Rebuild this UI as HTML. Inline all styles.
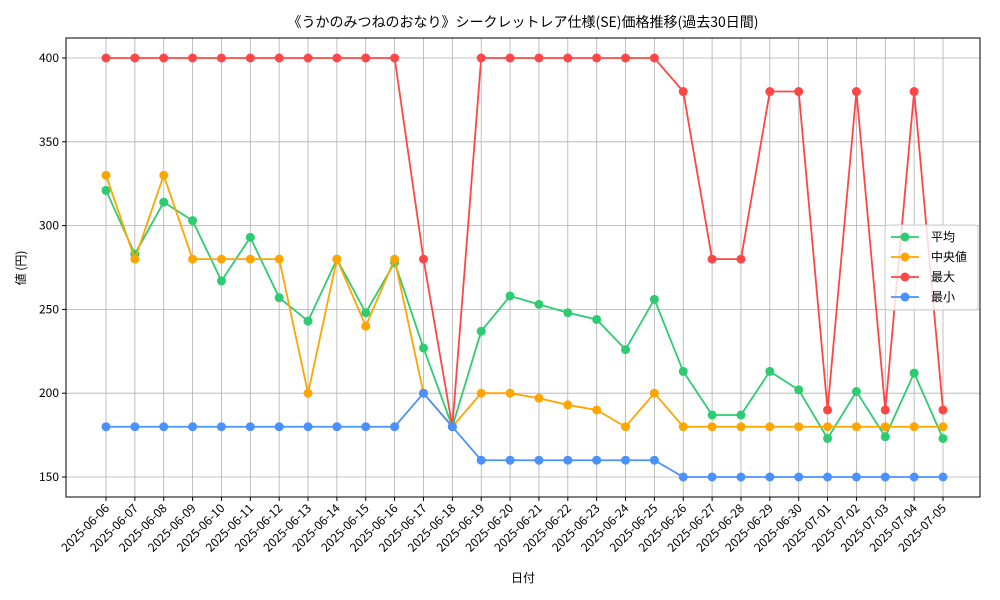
<!DOCTYPE html>
<html><head><meta charset="utf-8"><style>
body{margin:0;background:#fff}
svg{display:block;font-family:"Noto Sans CJK JP","Liberation Sans",sans-serif}
</style></head><body>
<svg id="chart" width="1000" height="600"></svg>
<script>
const dates=["2025-06-06","2025-06-07","2025-06-08","2025-06-09","2025-06-10","2025-06-11","2025-06-12","2025-06-13","2025-06-14","2025-06-15","2025-06-16","2025-06-17","2025-06-18","2025-06-19","2025-06-20","2025-06-21","2025-06-22","2025-06-23","2025-06-24","2025-06-25","2025-06-26","2025-06-27","2025-06-28","2025-06-29","2025-06-30","2025-07-01","2025-07-02","2025-07-03","2025-07-04","2025-07-05"];
const avgVals=[321,283,314,303,267,293,257,243,280,248,278,227,180,237,258,253,248,244,226,256,213,187,187,213,202,173,201,174,212,173];
const medVals=[330,280,330,280,280,280,280,200,280,240,280,200,180,200,200,197,193,190,180,200,180,180,180,180,180,180,180,180,180,180];
const maxVals=[400,400,400,400,400,400,400,400,400,400,400,280,180,400,400,400,400,400,400,400,380,280,280,380,380,190,380,190,380,190];
const minVals=[180,180,180,180,180,180,180,180,180,180,180,200,180,160,160,160,160,160,160,160,150,150,150,150,150,150,150,150,150,150];
const yTicks=[150,200,250,300,350,400];
const seriesNames=["平均","中央値","最大","最小"];
const seriesColors=["#2ecc71","#ffa500","#ff4646","#4a90ff"];
const NS="http://www.w3.org/2000/svg";
const svg=document.getElementById('chart');
const L=66,R=980,T=38,B=497;
const x=i=>106+i*(943-106)/(dates.length-1);
const y=v=>477-(v-150)*(477-58)/250;
function el(tag,attrs,parent){const e=document.createElementNS(NS,tag);for(const k in attrs)e.setAttribute(k,attrs[k]);(parent||svg).appendChild(e);return e;}
const grid=el('g',{});


dates.forEach((d,i)=>{const g=el('line',{x1:x(i),x2:x(i),y1:T,y2:B,stroke:'#b0b0b0','stroke-width':0.8},grid);

});
yTicks.forEach(v=>{const g=el('line',{x1:L,x2:R,y1:y(v),y2:y(v),stroke:'#b0b0b0','stroke-width':0.8},grid);

});
const frame=el('rect',{x:L,y:T,width:R-L,height:B-T,fill:'none',stroke:'#000','stroke-width':1});


yTicks.forEach(v=>{el('line',{x1:L-4,x2:L,y1:y(v),y2:y(v),stroke:'#000'});
const t=el('text',{x:L-7,y:y(v)+4,'text-anchor':'end','font-size':12});t.textContent=v;

});
dates.forEach((d,i)=>{el('line',{x1:x(i),x2:x(i),y1:B,y2:B+4,stroke:'#000'});
const t=el('text',{x:x(i)+4,y:B+12,'text-anchor':'end','font-size':12,transform:`rotate(-45 ${x(i)+4} ${B+12})`});t.textContent=d;

});
const all=[avgVals,medVals,maxVals,minVals];
all.forEach((vals,s)=>{const g=el('g',{});


el('polyline',{points:vals.map((v,i)=>x(i)+','+y(v)).join(' '),fill:'none',stroke:seriesColors[s],'stroke-width':1.8},g);
vals.forEach((v,i)=>{const c=el('circle',{cx:x(i),cy:y(v),r:4.5,fill:seriesColors[s]},g);

});});
const title=el('text',{x:523,y:27,'text-anchor':'middle','font-size':14});title.textContent='《うかのみつねのおなり》シークレットレア仕様(SE)価格推移(過去30日間)';


const xt=el('text',{x:523,y:582,'text-anchor':'middle','font-size':12});xt.textContent='日付';


const yt=el('text',{x:25,y:268,'text-anchor':'middle','font-size':12,transform:'rotate(-90 25 268)'});yt.textContent='値 (円)';


const lg=el('g',{});


el('rect',{x:885,y:225,width:93,height:85,rx:3,fill:'#fff','fill-opacity':0.8,stroke:'#ccc'},lg);
seriesNames.forEach((n,s)=>{const yy=237+s*20;
el('line',{x1:891,x2:919,y1:yy,y2:yy,stroke:seriesColors[s],'stroke-width':1.8},lg);
el('circle',{cx:905,cy:yy,r:4.5,fill:seriesColors[s]},lg);
const t=el('text',{x:931,y:yy+4,'font-size':12},lg);t.textContent=n;

});
</script>
</body></html>
